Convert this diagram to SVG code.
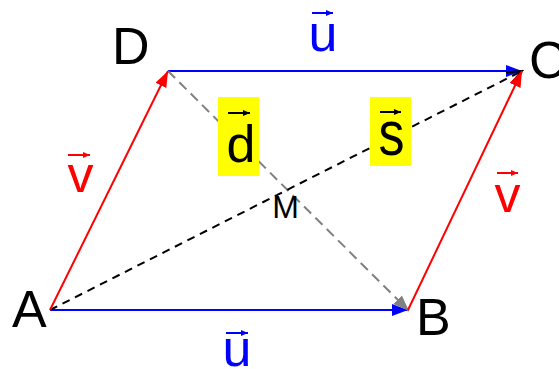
<svg xmlns="http://www.w3.org/2000/svg" width="559" height="369" viewBox="0 0 559 369">
<style>
text{font-family:"Liberation Sans",Arial,sans-serif;}
.pt{font-size:52px;fill:#000;}
.lbl{font-size:52px;text-anchor:middle;}
.blue{fill:#0000ff;}
.red{fill:#ff0000;}
.blk{fill:#000;}
.vb{stroke:#0000ff;stroke-width:2;fill:none;}
.vr{stroke:#ff0000;stroke-width:2;fill:none;}
.vk{stroke:#000;stroke-width:2;fill:none;}
</style>
<defs>
<marker id="mb" markerUnits="userSpaceOnUse" markerWidth="16" markerHeight="12" refX="16" refY="6" orient="auto"><path d="M0,0 L16,6 L0,12 z" fill="#0000ff"/></marker>
<marker id="mr" markerUnits="userSpaceOnUse" markerWidth="16" markerHeight="12" refX="16" refY="6" orient="auto"><path d="M0,0 L16,6 L0,12 z" fill="#ff0000"/></marker>
<marker id="mg" markerUnits="userSpaceOnUse" markerWidth="16" markerHeight="12" refX="16" refY="6" orient="auto"><path d="M0,0 L16,6 L0,12 z" fill="#808080"/></marker>
<marker id="mk" markerUnits="userSpaceOnUse" markerWidth="18" markerHeight="14" refX="16" refY="7" orient="auto"><path d="M1,1 L16,7 L1,13" fill="none" stroke="#000" stroke-width="2"/></marker>
<marker id="sb" markerUnits="userSpaceOnUse" markerWidth="7" markerHeight="6" refX="7" refY="3" orient="auto"><path d="M0,0 L7,3 L0,6 z" fill="#0000ff"/></marker>
<marker id="sr" markerUnits="userSpaceOnUse" markerWidth="7" markerHeight="6" refX="7" refY="3" orient="auto"><path d="M0,0 L7,3 L0,6 z" fill="#ff0000"/></marker>
<marker id="sk" markerUnits="userSpaceOnUse" markerWidth="7" markerHeight="6" refX="7" refY="3" orient="auto"><path d="M0,0 L7,3 L0,6 z" fill="#000"/></marker>
</defs>

<g id="connectors">
<line x1="50" y1="310" x2="408" y2="310" stroke="#0000ff" stroke-width="2" marker-end="url(#mb)"/>
<line x1="168" y1="71" x2="522" y2="71" stroke="#0000ff" stroke-width="2" marker-end="url(#mb)"/>
<line x1="168" y1="71" x2="409" y2="311" stroke="#808080" stroke-width="2" stroke-dasharray="10,6" marker-end="url(#mg)"/>
<line x1="50" y1="310" x2="522" y2="71" stroke="#000" stroke-width="2" stroke-dasharray="8,6" marker-end="url(#mk)"/>
<line x1="50" y1="310" x2="168" y2="71" stroke="#ff0000" stroke-width="2" marker-end="url(#mr)"/>
<line x1="408" y1="310" x2="522" y2="71" stroke="#ff0000" stroke-width="2" marker-end="url(#mr)"/>
</g>

<g id="node-A"><text class="pt" x="12" y="327">A</text></g>
<g id="node-B"><text class="pt" x="416" y="335">B</text></g>
<g id="node-C"><text class="pt" x="529" y="78">C</text></g>
<g id="node-D"><text class="pt" x="112" y="64">D</text></g>
<g id="node-M"><text x="285.5" y="218" font-size="32" text-anchor="middle" fill="#000">M</text></g>

<g id="label-u-top">
<line class="vb" x1="312" y1="13" x2="333" y2="13" marker-end="url(#sb)"/>
<text class="lbl blue" x="323" y="51">u</text>
</g>
<g id="label-u-bottom">
<line class="vb" x1="226" y1="333" x2="248" y2="333" marker-end="url(#sb)"/>
<text class="lbl blue" x="237" y="366">u</text>
</g>
<g id="label-v-left">
<line class="vr" x1="68" y1="155" x2="90" y2="155" marker-end="url(#sr)"/>
<text class="lbl red" x="80.5" y="192">v</text>
</g>
<g id="label-v-right">
<line class="vr" x1="497" y1="173" x2="518" y2="173" marker-end="url(#sr)"/>
<text class="lbl red" x="507.5" y="212">v</text>
</g>
<g id="label-d">
<rect x="218" y="97" width="41" height="79" fill="#ffff00"/>
<line class="vk" x1="228" y1="113" x2="250" y2="113" marker-end="url(#sk)"/>
<text class="lbl blk" x="241" y="162">d</text>
</g>
<g id="label-s">
<rect x="370" y="97" width="41" height="69" fill="#ffff00"/>
<line class="vk" x1="380" y1="112" x2="401" y2="112" marker-end="url(#sk)"/>
<text class="lbl blk" x="391.5" y="155" transform="translate(0,155) scale(1,1.2) translate(0,-155)">s</text>
</g>
</svg>
